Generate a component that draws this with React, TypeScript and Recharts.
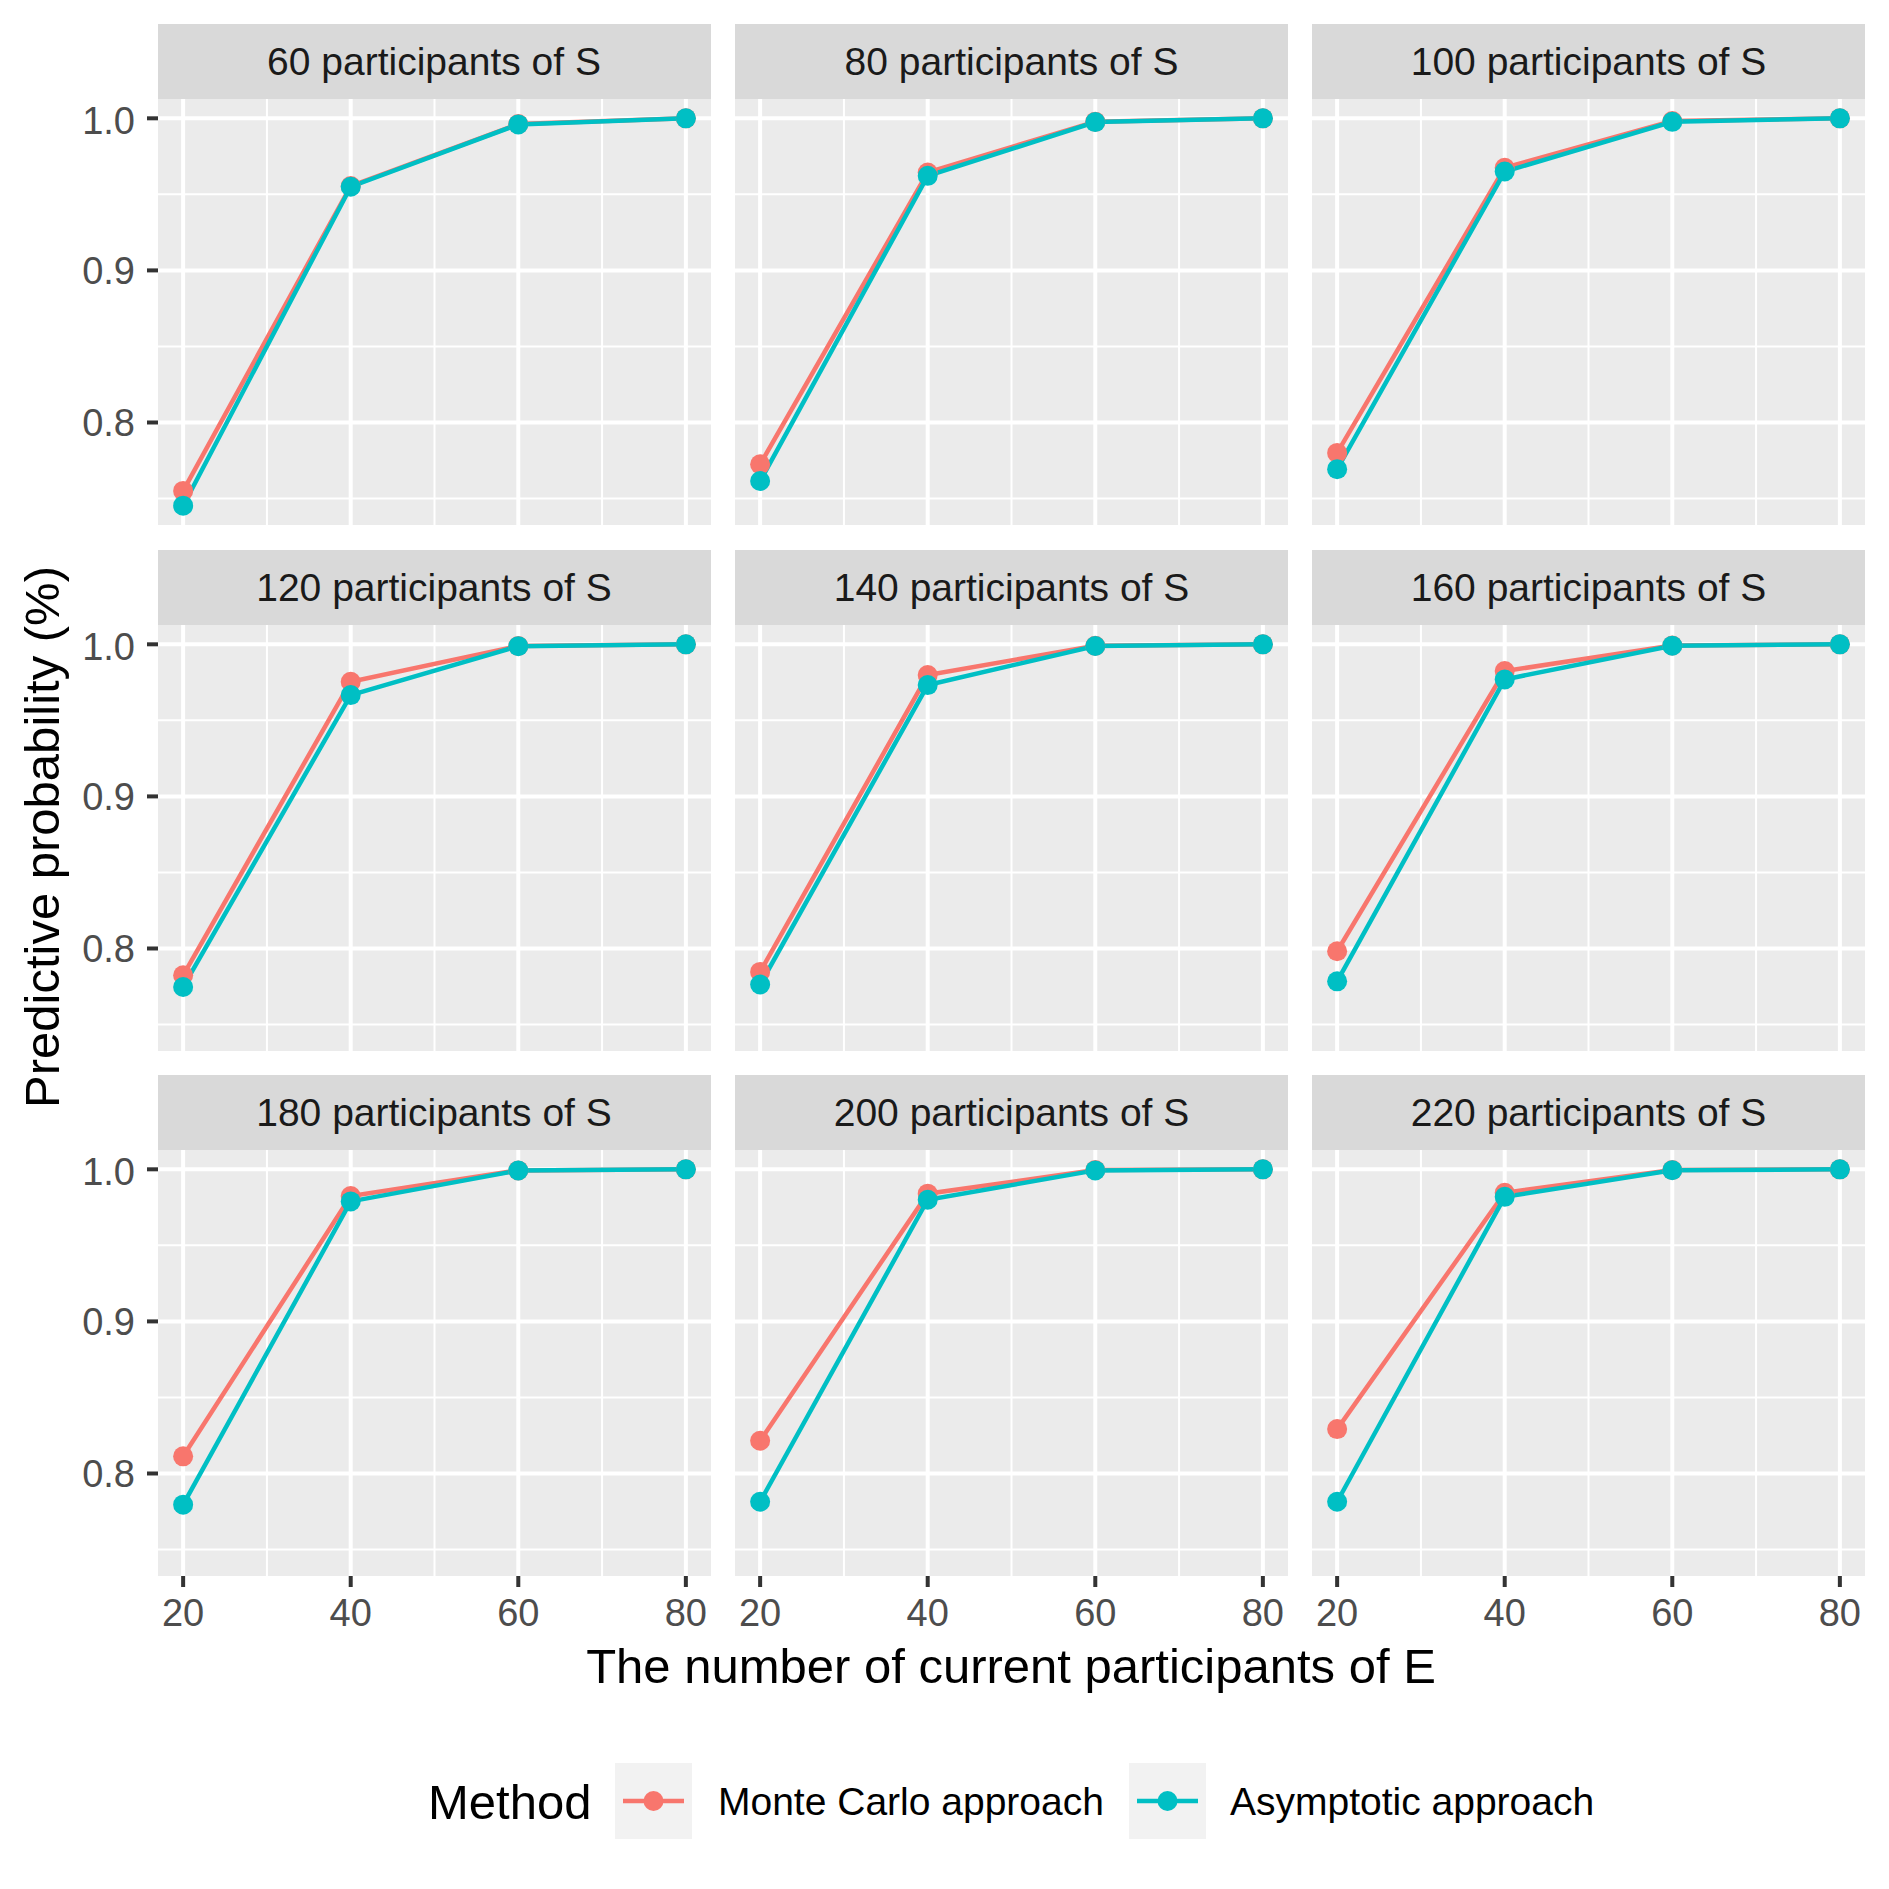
import React from "react";
import { LineChart, Line, XAxis, YAxis, CartesianGrid } from "recharts";

// participants of E (x axis)
const xValues = [20, 40, 60, 80];
// facet: participants of S
const sSizes = [60, 80, 100, 120, 140, 160, 180, 200, 220];

// one row per facet, one value per x
const monteCarlo = [
  [0.755, 0.9555, 0.9962, 1.0],
  [0.7725, 0.9644, 0.9978, 1.0],
  [0.78, 0.9675, 0.9982, 1.0],
  [0.7824, 0.9754, 0.9989, 1.0],
  [0.7846, 0.9798, 0.999, 1.0],
  [0.7982, 0.9824, 0.9992, 1.0],
  [0.8113, 0.9824, 0.9993, 1.0],
  [0.8215, 0.984, 0.9995, 1.0],
  [0.8292, 0.9846, 0.9995, 1.0],
];
const asymptotic = [
  [0.7453, 0.955, 0.996, 1.0],
  [0.7615, 0.9622, 0.9975, 1.0],
  [0.7693, 0.965, 0.9977, 1.0],
  [0.7747, 0.9666, 0.9988, 1.0],
  [0.7763, 0.9732, 0.9989, 1.0],
  [0.7784, 0.9769, 0.9991, 1.0],
  [0.7795, 0.9789, 0.9992, 1.0],
  [0.7814, 0.98, 0.9993, 1.0],
  [0.7814, 0.9819, 0.9994, 1.0],
];

const methods = ["Monte Carlo approach", "Asymptotic approach"];
const colors = ["#F8766D", "#00BFC4"];

const yTicks = [0.8, 0.9, 1.0];
const yMinor = [0.75, 0.85, 0.95];
const xMinor = [30, 50, 70];
const Y_DOMAIN: [number, number] = [0.7326, 1.0127];
const X_DOMAIN: [number, number] = [17, 83];

const FONT = "'Liberation Sans', Arial, Helvetica, sans-serif";
const COL_X = [157.5, 735, 1312];
const ROW_Y = [24, 549.5, 1075];
const PANEL_W = 553;
const PANEL_H = 426;
const STRIP_H = 75;

function Facet({ idx }: { idx: number }) {
  const col = idx % 3;
  const row = Math.floor(idx / 3);
  const showY = col === 0;
  const showX = row === 2;
  const yW = showY ? 110 : 0;
  const xH = showX ? 60 : 0;
  const data = xValues.map((x, i) => ({
    x,
    mc: monteCarlo[idx][i],
    asym: asymptotic[idx][i],
  }));

  return (
    <>
      <div
        style={{
          position: "absolute",
          left: COL_X[col],
          top: ROW_Y[row],
          width: PANEL_W,
          height: STRIP_H,
          background: "#D9D9D9",
          color: "#1A1A1A",
          fontFamily: FONT,
          fontSize: 39,
          lineHeight: `${STRIP_H}px`,
          textAlign: "center",
        }}
      >
        {sSizes[idx]} participants of S
      </div>
      <div style={{ position: "absolute", left: COL_X[col] - yW, top: ROW_Y[row] + STRIP_H }}>
        <LineChart
          width={PANEL_W + yW}
          height={PANEL_H + xH}
          data={data}
          margin={{ top: 0, right: 0, bottom: 0, left: 0 }}
        >
          <CartesianGrid
            fill="#EBEBEB"
            stroke="#FFFFFF"
            strokeWidth={2}
            horizontalValues={yMinor}
            verticalValues={xMinor}
          />
          <CartesianGrid stroke="#FFFFFF" strokeWidth={4} horizontalValues={yTicks} verticalValues={xValues} />
          <XAxis
            dataKey="x"
            type="number"
            domain={X_DOMAIN}
            ticks={xValues}
            hide={!showX}
            height={xH}
            axisLine={false}
            tickSize={11}
            tickMargin={12}
            tickLine={{ stroke: "#333333", strokeWidth: 4 }}
            tick={{ fill: "#4D4D4D", fontSize: 38, fontFamily: FONT }}
          />
          <YAxis
            type="number"
            domain={Y_DOMAIN}
            ticks={yTicks}
            allowDataOverflow
            hide={!showY}
            width={yW}
            axisLine={false}
            tickSize={11}
            tickMargin={12}
            tickLine={{ stroke: "#333333", strokeWidth: 4 }}
            tickFormatter={(v: number) => v.toFixed(1)}
            tick={{ fill: "#4D4D4D", fontSize: 38, fontFamily: FONT }}
          />
          <Line dataKey="mc" stroke={colors[0]} strokeWidth={4.5} dot={false} isAnimationActive={false} />
          <Line dataKey="asym" stroke={colors[1]} strokeWidth={4.5} dot={false} isAnimationActive={false} />
          <Line
            dataKey="mc"
            stroke="none"
            dot={{ r: 10, fill: colors[0], stroke: "none" }}
            isAnimationActive={false}
          />
          <Line
            dataKey="asym"
            stroke="none"
            dot={{ r: 10, fill: colors[1], stroke: "none" }}
            isAnimationActive={false}
          />
        </LineChart>
      </div>
    </>
  );
}

const legendKeys = [
  { box: 615, text: 718 },
  { box: 1129, text: 1230 },
];

export default function App() {
  return (
    <div
      style={{
        position: "absolute",
        left: 0,
        top: 0,
        width: 1889,
        height: 1889,
        background: "#FFFFFF",
        overflow: "hidden",
      }}
    >
      {sSizes.map((_, i) => (
        <Facet key={i} idx={i} />
      ))}
      <svg
        width={1889}
        height={1889}
        style={{ position: "absolute", left: 0, top: 0, pointerEvents: "none" }}
        fontFamily={FONT}
      >
        <text
          x={59}
          y={837}
          transform="rotate(-90 59 837)"
          textAnchor="middle"
          fontSize={49}
          fill="#000000"
        >
          Predictive probability (%)
        </text>
        <text x={1011} y={1683} textAnchor="middle" fontSize={49} fill="#000000">
          The number of current participants of E
        </text>
        <text x={428} y={1819} fontSize={49} fill="#000000">
          Method
        </text>
        {methods.map((m, i) => (
          <g key={m}>
            <rect x={legendKeys[i].box} y={1763} width={77} height={76} fill="#F2F2F2" />
            <line
              x1={legendKeys[i].box + 8}
              x2={legendKeys[i].box + 69}
              y1={1801}
              y2={1801}
              stroke={colors[i]}
              strokeWidth={4.5}
            />
            <circle cx={legendKeys[i].box + 38.5} cy={1801} r={10} fill={colors[i]} />
            <text x={legendKeys[i].text} y={1815} fontSize={39} fill="#000000">
              {m}
            </text>
          </g>
        ))}
      </svg>
    </div>
  );
}
